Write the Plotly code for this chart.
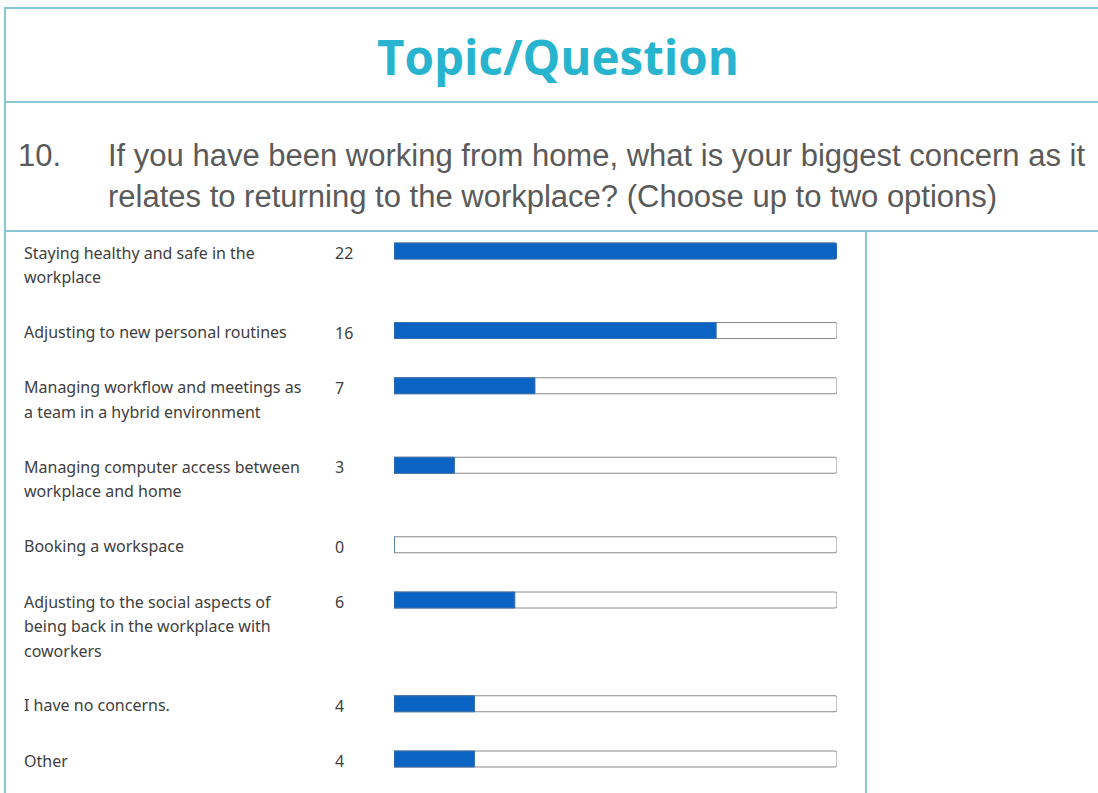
import plotly.graph_objects as go

# ---- data ----
categories = [
    "Staying healthy and safe in the<br>workplace",
    "Adjusting to new personal routines",
    "Managing workflow and meetings as<br>a team in a hybrid environment",
    "Managing computer access between<br>workplace and home",
    "Booking a workspace",
    "Adjusting to the social aspects of<br>being back in the workplace with<br>coworkers",
    "I have no concerns.",
    "Other",
]
values = [22, 16, 7, 3, 0, 6, 4, 4]
title_text = "Topic/Question"
question_number = "10."
question_lines = [
    "If you have been working from home, what is your biggest concern as it",
    "relates to returning to the workplace? (Choose up to two options)",
]

# ---- layout helpers (pixel-based y axis) ----
W, H = 1098, 793
LINE_H = 24.5
first_center = 251
lines_per_cat = [len(c.split("<br>")) for c in categories]
centers = []
y = first_center
for n in lines_per_cat:
    centers.append(y)
    y += 31 + 24.25 * n

border = "#86c7d3"
blue = "#0b63c4"
label_font = dict(family="Noto Sans", size=16, color="#404040")

fig = go.Figure()
# track (outline of full scale)
fig.add_trace(go.Bar(
    x=[max(values)] * len(values), y=centers, orientation="h", width=16,
    marker=dict(color="white", line=dict(color="#8a8a8a", width=1), cornerradius=2),
    hoverinfo="skip", showlegend=False,
))
# value bars
fig.add_trace(go.Bar(
    x=values, y=centers, orientation="h", width=16,
    marker=dict(color=blue, line=dict(color="#3b6fa8", width=1), cornerradius=2),
    showlegend=False,
))

ann = []
for cat, v, c in zip(categories, values, centers):
    for i, ln in enumerate(cat.split("<br>")):
        ann.append(dict(x=22 / W, xref="paper", y=c + 1.5 + i * LINE_H, yref="y",
                        text=ln, showarrow=False, xanchor="left", yanchor="middle",
                        font=label_font))
    ann.append(dict(x=333 / W, xref="paper", y=c + 2, yref="y", text=str(v),
                    showarrow=False, xanchor="left", yanchor="middle", font=label_font))

ann.append(dict(x=558 / W, xref="paper", y=56, yref="y", text="<b>" + title_text + "</b>",
                showarrow=False, xanchor="center", yanchor="middle",
                font=dict(family="Open Sans", size=47.5, color="#28b4ce")))
q_font = dict(family="Liberation Sans", size=31, color="#5a5a5a")
ann.append(dict(x=16 / W, xref="paper", y=155, yref="y", text=question_number,
                showarrow=False, xanchor="left", yanchor="middle", font=q_font))
for i, ln in enumerate(question_lines):
    ann.append(dict(x=106 / W, xref="paper", y=155 + i * 41, yref="y", text=ln,
                    showarrow=False, xanchor="left", yanchor="middle", font=q_font))

shapes = []
def hline(yv, x0, x1):
    shapes.append(dict(type="line", xref="paper", yref="y", x0=x0 / W, x1=x1 / W,
                       y0=yv, y1=yv, line=dict(color=border, width=2)))
def vline(xv, y0, y1):
    shapes.append(dict(type="line", xref="paper", yref="y", x0=xv / W, x1=xv / W,
                       y0=y0, y1=y1, line=dict(color=border, width=2)))
hline(8, 4, W)
hline(102, 4, W)
hline(231, 4, W)
vline(5, 8, H)
vline(866, 231, H)

fig.update_layout(
    width=W, height=H, margin=dict(l=0, r=0, t=0, b=0),
    paper_bgcolor="white", plot_bgcolor="white",
    barmode="overlay",
    xaxis=dict(domain=[394 / W, 837 / W], range=[0, max(values)], visible=False, fixedrange=True),
    yaxis=dict(domain=[0, 1], range=[H, 0], visible=False, fixedrange=True),
    annotations=ann, shapes=shapes,
)
fig.write_html("out.html", config={"displayModeBar": False},
               post_script="document.body.style.margin='0';document.body.style.overflow='hidden';")
